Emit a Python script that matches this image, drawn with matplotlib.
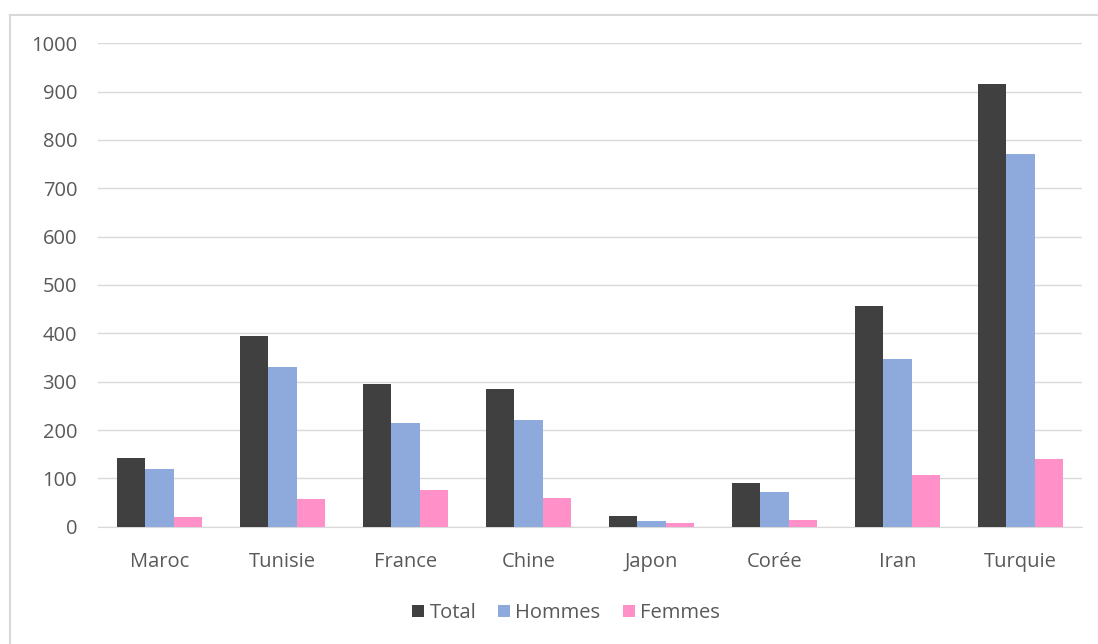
import matplotlib
matplotlib.use("Agg")
import matplotlib.pyplot as plt
import numpy as np
from matplotlib.lines import Line2D

categories = ["Maroc", "Tunisie", "France", "Chine", "Japon", "Corée", "Iran", "Turquie"]
total = [142, 394, 295, 285, 22, 90, 456, 916]
hommes = [120, 331, 214, 221, 12, 71, 347, 771]
femmes = [20, 58, 76, 60, 8, 14, 106, 141]
series_names = ["Total", "Hommes", "Femmes"]
colors = ["#404040", "#8EA9DB", "#FF91C8"]
yticks = [0, 100, 200, 300, 400, 500, 600, 700, 800, 900, 1000]

plt.rcParams['font.family'] = ['Open Sans', 'DejaVu Sans']

fig = plt.figure(figsize=(10.98, 6.44), dpi=100)
ax = fig.add_axes([98/1098, 117.3/644, 984/1098, 483.4/644])

x = np.arange(len(categories))
w = 0.23
for i, (vals, name, c) in enumerate(zip([total, hommes, femmes], series_names, colors)):
    ax.bar(x + (i - 1) * w, vals, width=w, color=c, label=name, zorder=3)

ax.set_xlim(-0.5, len(categories) - 0.5)
ax.set_ylim(0, 1000)
ax.set_yticks(yticks)
ax.set_xticks(x)
ax.set_xticklabels(categories)
ax.tick_params(axis='both', length=0, labelsize=14.5, labelcolor="#595959")
ax.tick_params(axis='x', pad=18)
ax.tick_params(axis='y', pad=15)
ax.grid(axis='y', color="#D9D9D9", linewidth=1, zorder=0)
for s in ["top", "right", "left"]:
    ax.spines[s].set_visible(False)
ax.spines["bottom"].set_color("#D9D9D9")

leg = fig.legend(loc="center", bbox_to_anchor=(566/1098, (644 - 613) / 644), ncol=3, frameon=False,
                 fontsize=14.5, handlelength=0.6, handleheight=0.6, columnspacing=1.1, handletextpad=0.25)
for t in leg.get_texts():
    t.set_color("#595959")

# chart area border (top and left edges visible)
fig.add_artist(Line2D([10/1098, 1.0], [1 - 15/644, 1 - 15/644], transform=fig.transFigure,
                      color="#D9D9D9", linewidth=1.5))
fig.add_artist(Line2D([10/1098, 10/1098], [0.0, 1 - 15/644], transform=fig.transFigure,
                      color="#D9D9D9", linewidth=1.5))

fig.savefig("out.png", dpi=100)
